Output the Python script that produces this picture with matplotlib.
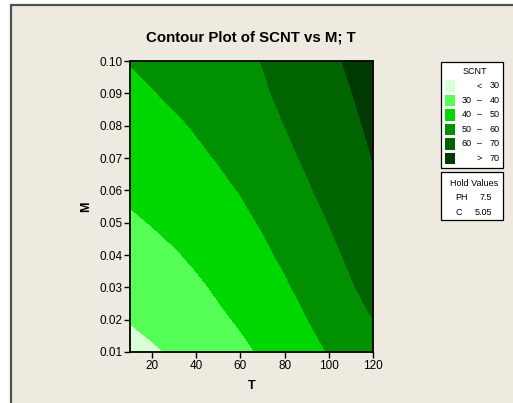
import numpy as np
import matplotlib
matplotlib.use("Agg")
import matplotlib.pyplot as plt
from matplotlib.patches import Rectangle

plt.rcParams['font.family'] = ['Liberation Sans', 'DejaVu Sans']

# ---- data ----
T_values = [10, 20, 30, 40, 50, 60, 70, 80, 90, 100, 110, 120]
M_values = [0.01, 0.02, 0.03, 0.04, 0.05, 0.06, 0.07, 0.08, 0.09, 0.10]
SCNT_grid = [
    [26.4, 28.8, 31.1, 33.5, 35.9, 38.3, 40.9, 44.1, 47.2, 50.4, 53.8, 57.3],  # M=0.01
    [30.5, 32.5, 34.5, 36.6, 38.6, 40.9, 43.9, 46.8, 49.8, 53.2, 56.6, 60.0],  # M=0.02
    [31.4, 33.8, 36.2, 38.6, 41.1, 43.7, 46.4, 49.0, 52.2, 55.8, 59.3, 62.8],  # M=0.03
    [34.8, 37.0, 39.2, 41.5, 43.9, 46.2, 48.6, 51.3, 54.7, 58.0, 61.4, 64.8],  # M=0.04
    [38.5, 40.4, 42.4, 44.4, 46.4, 48.4, 50.6, 53.7, 56.9, 60.1, 63.7, 67.2],  # M=0.05
    [41.8, 43.5, 45.2, 46.8, 48.5, 50.3, 53.2, 56.2, 59.1, 62.2, 65.5, 68.8],  # M=0.06
    [43.9, 45.5, 47.1, 48.7, 50.4, 53.0, 55.7, 58.3, 61.0, 64.1, 67.2, 70.2],  # M=0.07
    [45.9, 47.4, 48.9, 50.6, 53.0, 55.3, 57.6, 60.0, 62.8, 65.7, 68.5, 71.4],  # M=0.08
    [48.2, 49.6, 51.3, 53.3, 55.2, 57.2, 59.1, 61.5, 64.3, 67.0, 69.8, 72.6],  # M=0.09
    [50.3, 51.9, 53.5, 55.2, 56.8, 58.5, 60.2, 62.9, 65.6, 68.4, 71.1, 73.8],  # M=0.10
]
levels = [0, 30, 40, 50, 60, 70, 100]
level_colors = ['#D8FFD8', '#55FF55', '#00D600', '#009000', '#006400', '#003A00']
legend_labels = [('', '<', '30'), ('30', '\u2013', '40'), ('40', '\u2013', '50'),
                 ('50', '\u2013', '60'), ('60', '\u2013', '70'), ('', '>', '70')]
hold_names = ['PH', 'C']
hold_values = ['7.5', '5.05']
x_ticks = [20, 40, 60, 80, 100, 120]
y_ticks = [0.01, 0.02, 0.03, 0.04, 0.05, 0.06, 0.07, 0.08, 0.09, 0.10]

W, H = 513, 403
BG = '#EEEAE0'
fig = plt.figure(figsize=(W / 100, H / 100), dpi=100, facecolor='white')


def fx(px):
    return px / W


def fy(py):
    return 1 - py / H


# background panel with border (top & left visible, others off-canvas)
fig.patches.append(Rectangle((fx(11), fy(420)), fx(530) - fx(11), fy(5) - fy(420),
                             transform=fig.transFigure, facecolor=BG, edgecolor='#505050',
                             linewidth=1.6, zorder=-5))

ax = fig.add_axes([fx(130), fy(352), fx(373) - fx(130), fy(61) - fy(352)])
ax.set_zorder(2)
Tg, Mg = np.meshgrid(T_values, M_values)
ax.contourf(Tg, Mg, np.array(SCNT_grid), levels=levels, colors=level_colors)
ax.set_xlim(10, 120)
ax.set_ylim(0.01, 0.10)
ax.set_xticks(x_ticks)
ax.set_yticks(y_ticks)
ax.set_yticklabels([f'{v:.2f}' for v in y_ticks])
ax.tick_params(direction='out', length=4, width=1, labelsize=8.5, pad=1.5, colors='black')
for s in ax.spines.values():
    s.set_linewidth(1.3)
ax.set_xlabel('T', fontsize=9, fontweight='bold', labelpad=6)
ax.set_ylabel('M', fontsize=9, fontweight='bold', labelpad=5)
fig.text(fx(251), fy(38), 'Contour Plot of SCNT vs M; T', ha='center', va='center',
         fontsize=10.8, fontweight='bold')

# legend box 1
fs = 6.5
fig.patches.append(Rectangle((fx(441), fy(167.5)), fx(503) - fx(441), fy(62) - fy(167.5),
                             transform=fig.transFigure, facecolor='white', edgecolor='black',
                             linewidth=0.9, zorder=3))
fig.text(fx(475), fy(72), 'SCNT', ha='center', va='center', fontsize=fs, zorder=5)
for i, (col, (lo, sym, hi)) in enumerate(zip(level_colors, legend_labels)):
    yc = 86 + i * 14.5
    fig.patches.append(Rectangle((fx(444.5), fy(yc + 5.8)), fx(455) - fx(444.5), fy(yc - 5.8) - fy(yc + 5.8),
                                 transform=fig.transFigure, facecolor=col, edgecolor='none', zorder=4))
    if lo:
        fig.text(fx(461.5), fy(yc), lo, ha='left', va='center', fontsize=fs, zorder=5)
    fig.text(fx(479.5), fy(yc), sym, ha='center', va='center', fontsize=fs, zorder=5)
    fig.text(fx(499.5), fy(yc), hi, ha='right', va='center', fontsize=fs, zorder=5)

# legend box 2 (hold values)
fig.patches.append(Rectangle((fx(441), fy(220)), fx(503) - fx(441), fy(171.5) - fy(220),
                             transform=fig.transFigure, facecolor='white', edgecolor='black',
                             linewidth=0.9, zorder=3))
fig.text(fx(474), fy(183.5), 'Hold Values', ha='center', va='center', fontsize=fs, zorder=5)
for i, (nm, val) in enumerate(zip(hold_names, hold_values)):
    yc = 197.5 + i * 15.3
    fig.text(fx(455), fy(yc), nm, ha='left', va='center', fontsize=fs, zorder=5)
    fig.text(fx(492.5), fy(yc), val, ha='right', va='center', fontsize=fs, zorder=5)

fig.savefig('out.png', dpi=100, facecolor=fig.get_facecolor())
